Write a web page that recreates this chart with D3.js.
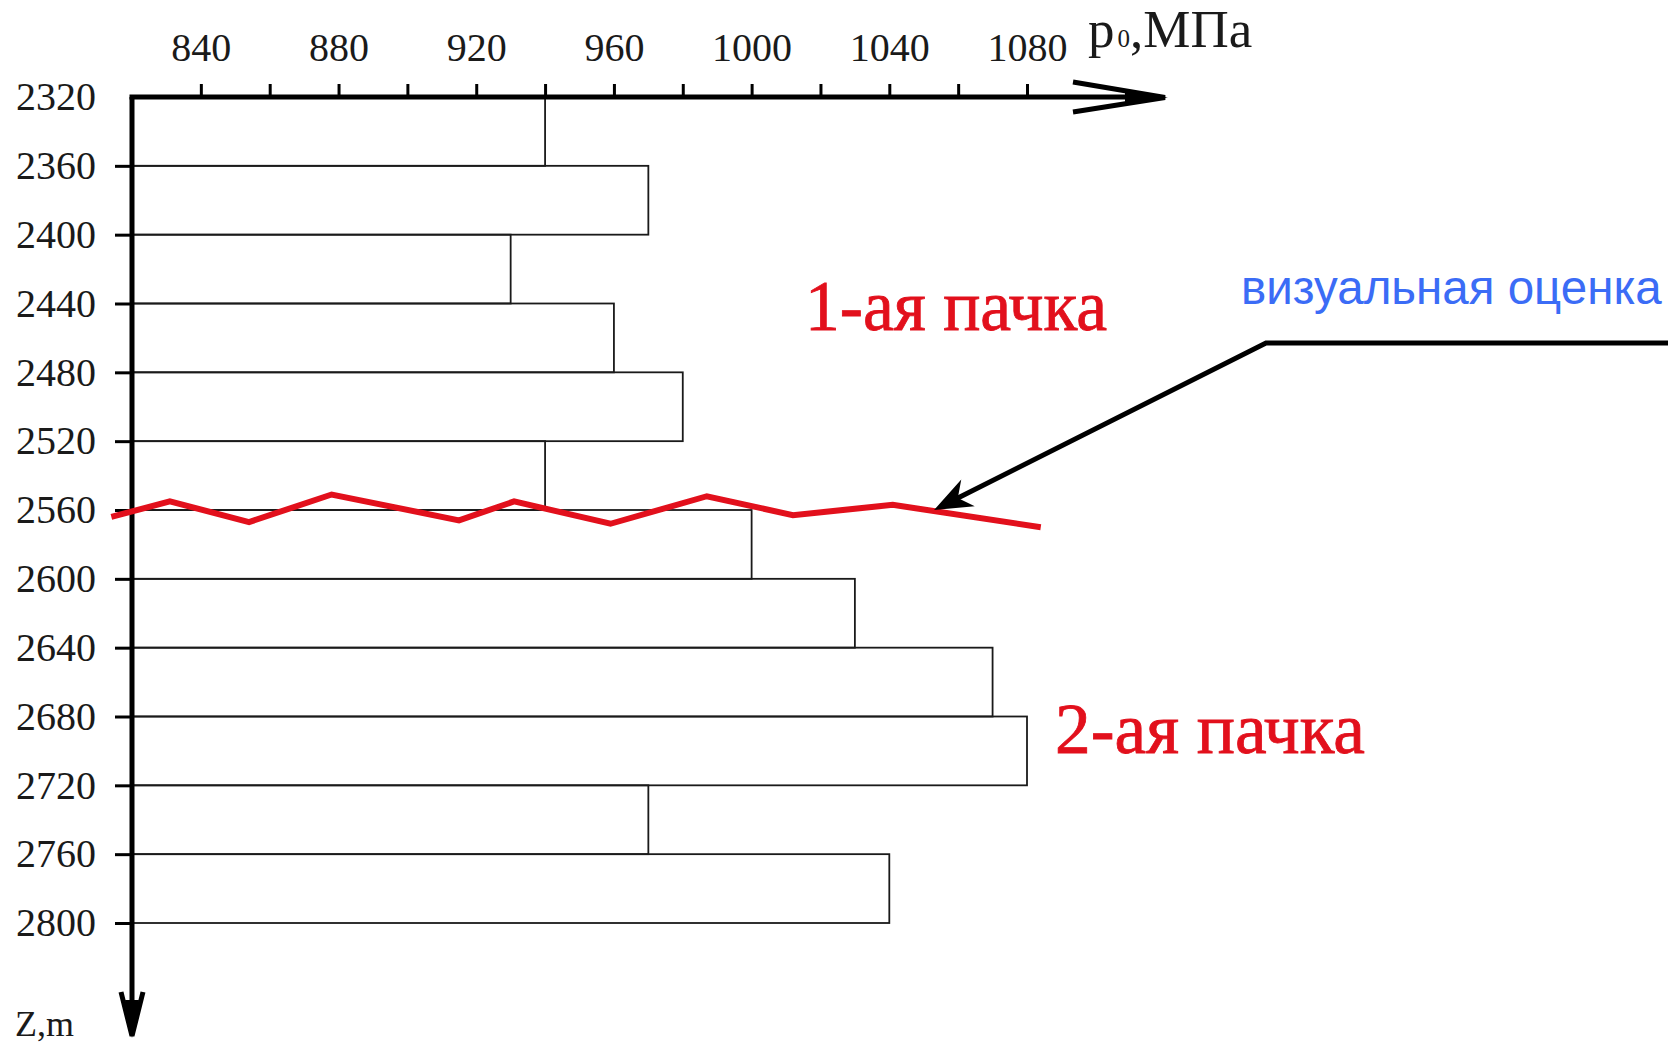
<!DOCTYPE html>
<html>
<head>
<meta charset="utf-8">
<script src="https://cdn.jsdelivr.net/npm/d3@7"></script>
<style>
  body { margin: 0; background: #fff; }
  svg { display: block; }
</style>
</head>
<body>
<svg id="chart" width="1668" height="1049"></svg>
<script>
// Interval tops (m) and pressure p0 (MPa) of each 40 m interval
var depthTop = [2320, 2360, 2400, 2440, 2480, 2520, 2560, 2600, 2640, 2680, 2720, 2760];
var pressure = [940, 970, 930, 960, 980, 940, 1000, 1030, 1070, 1080, 970, 1040];
var step = 40;

// tick values
var xTicks = [840, 860, 880, 900, 920, 940, 960, 980, 1000, 1020, 1040, 1060, 1080];
var yTicks = [2320, 2360, 2400, 2440, 2480, 2520, 2560, 2600, 2640, 2680, 2720, 2760, 2800];

// hand-drawn boundary ("визуальная оценка") between the two packs
var visP = [814, 831, 854, 878, 915, 931, 959, 987, 1012, 1041, 1084];
var visZ = [2564, 2555, 2567, 2551, 2566, 2555, 2568, 2552, 2563, 2557, 2570];

// pointer tip of the annotation, in data units
var noteTip = [1053, 2560];

var svg = d3.select("svg#chart");

var x = d3.scaleLinear().domain([820, 1080]).range([132, 1027]);
var y = d3.scaleLinear().domain([2320, 2800]).range([97, 923]);

var serif = "'Liberation Serif', 'Times New Roman', serif";

// bars
svg.append("g").selectAll("rect")
    .data(depthTop)
  .enter().append("rect")
    .attr("x", x(820))
    .attr("y", function(d) { return y(d); })
    .attr("width", function(d, i) { return x(pressure[i]) - x(820); })
    .attr("height", function(d) { return y(d + step) - y(d); })
    .style("fill", "none")
    .style("stroke", "#1a1a1a")
    .style("stroke-width", 1.8);

// x axis (top)
var xAxis = svg.append("g")
    .attr("transform", "translate(0," + y(2320) + ")")
    .call(d3.axisTop(x)
      .tickValues(xTicks)
      .tickSize(13)
      .tickSizeOuter(0)
      .tickPadding(23)
      .tickFormat(function(d) { return d % 40 === 0 ? d : ""; }));
xAxis.select(".domain").remove();
xAxis.selectAll(".tick line").style("stroke", "#000").style("stroke-width", 3);
xAxis.selectAll(".tick text")
    .style("font-family", serif)
    .style("font-size", "40px")
    .style("fill", "#1a1a1a");

// y axis (left)
var yAxis = svg.append("g")
    .attr("transform", "translate(" + x(820) + ",0)")
    .call(d3.axisLeft(y)
      .tickValues(yTicks)
      .tickSize(17)
      .tickSizeOuter(0)
      .tickPadding(19)
      .tickFormat(d3.format("d")));
yAxis.select(".domain").remove();
yAxis.selectAll(".tick line")
    .style("stroke", "#000")
    .style("stroke-width", 3)
    .style("opacity", function(d) { return d === 2320 ? 0 : 1; });
yAxis.selectAll(".tick text")
    .style("font-family", serif)
    .style("font-size", "40px")
    .style("fill", "#1a1a1a");

// axis lines with arrows
svg.append("line")
    .attr("x1", x(820) - 2.5).attr("y1", y(2320))
    .attr("x2", 1160).attr("y2", y(2320))
    .style("stroke", "#000").style("stroke-width", 5);
svg.append("path")
    .attr("d", "M1073,82 L1165,97.5 L1073,112")
    .style("fill", "none").style("stroke", "#000").style("stroke-width", 5)
    .style("stroke-linejoin", "miter");
svg.append("path")
    .attr("d", "M1125,91 L1168,97.5 L1125,104 Z")
    .style("fill", "#000");

svg.append("line")
    .attr("x1", x(820)).attr("y1", y(2320))
    .attr("x2", x(820)).attr("y2", 1030)
    .style("stroke", "#000").style("stroke-width", 5);
svg.append("path")
    .attr("d", "M121,992 L132,1036 L143,992")
    .style("fill", "none").style("stroke", "#000").style("stroke-width", 5);
svg.append("path")
    .attr("d", "M125,1000 L132,1038 L139,1000 Z")
    .style("fill", "#000");

// axis titles
var pLabel = svg.append("text")
    .attr("x", 1088).attr("y", 47)
    .style("font-family", serif)
    .style("font-size", "53px")
    .style("fill", "#1a1a1a");
pLabel.append("tspan").text("p");
pLabel.append("tspan").attr("dx", 3).style("font-size", "25px").text("0");
pLabel.append("tspan").text(",МПа");

svg.append("text")
    .attr("x", 15).attr("y", 1036)
    .style("font-family", serif)
    .style("font-size", "36px")
    .style("fill", "#1a1a1a")
    .text("Z,m");

// red boundary line
svg.append("path")
    .datum(visP)
    .attr("d", d3.line()
      .x(function(d) { return x(d); })
      .y(function(d, i) { return y(visZ[i]); }))
    .style("fill", "none")
    .style("stroke", "#e2101c")
    .style("stroke-width", 6)
    .style("stroke-linejoin", "miter");

// pack labels
svg.append("text")
    .attr("x", 805).attr("y", 330)
    .attr("textLength", 302)
    .attr("lengthAdjust", "spacingAndGlyphs")
    .style("font-family", serif)
    .style("font-size", "71px")
    .style("fill", "#e2101c")
    .style("stroke", "#e2101c")
    .style("stroke-width", 0.8)
    .text("1-ая пачка");
svg.append("text")
    .attr("x", 1055).attr("y", 753)
    .attr("textLength", 310)
    .attr("lengthAdjust", "spacingAndGlyphs")
    .style("font-family", serif)
    .style("font-size", "71px")
    .style("fill", "#e2101c")
    .style("stroke", "#e2101c")
    .style("stroke-width", 0.8)
    .text("2-ая пачка");

// annotation
var tip = [x(noteTip[0]), y(noteTip[1])];
var elbow = [1266, 343];
var len = Math.hypot(tip[0] - elbow[0], tip[1] - elbow[1]);
var u = [(tip[0] - elbow[0]) / len, (tip[1] - elbow[1]) / len];
var n = [-u[1], u[0]];
var L = 38, W = 15;

svg.append("path")
    .attr("d", "M1668,343 L" + elbow[0] + "," + elbow[1] +
      " L" + (tip[0] - u[0] * 25) + "," + (tip[1] - u[1] * 25))
    .style("fill", "none")
    .style("stroke", "#000")
    .style("stroke-width", 5);
svg.append("path")
    .attr("d", "M" + tip[0] + "," + tip[1] +
      " L" + (tip[0] - u[0] * L + n[0] * W) + "," + (tip[1] - u[1] * L + n[1] * W) +
      " L" + (tip[0] - u[0] * L * 0.7) + "," + (tip[1] - u[1] * L * 0.7) +
      " L" + (tip[0] - u[0] * L - n[0] * W) + "," + (tip[1] - u[1] * L - n[1] * W) + " Z")
    .style("fill", "#000");

svg.append("text")
    .attr("x", 1241).attr("y", 304)
    .style("font-family", "'Liberation Sans', Arial, sans-serif")
    .style("font-size", "47.5px")
    .style("fill", "#3b6cf6")
    .text("визуальная оценка");
</script>
</body>
</html>
